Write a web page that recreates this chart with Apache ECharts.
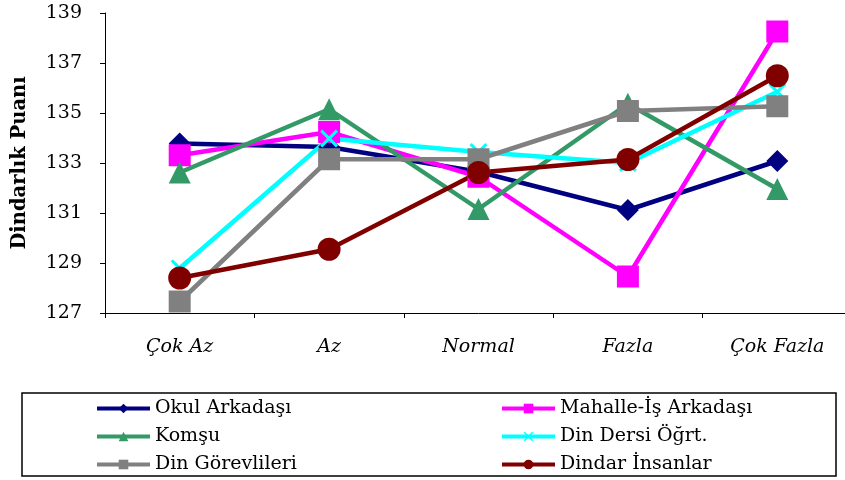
<!DOCTYPE html>
<html>
<head>
<meta charset="utf-8">
<script src="https://cdn.jsdelivr.net/npm/echarts@6/dist/echarts.min.js"></script>
<style>
html,body{margin:0;padding:0;background:#fff;overflow:hidden;}
#chart{width:852px;height:480px;}
</style>
</head>
<body>
<div id="chart"></div>
<script>
const categories = ['Çok Az', 'Az', 'Normal', 'Fazla', 'Çok Fazla'];
const seriesNames = ['Okul Arkadaşı', 'Mahalle-İş Arkadaşı', 'Komşu', 'Din Dersi Öğrt.', 'Din Görevlileri', 'Dindar İnsanlar'];
const okulArkadasi = [133.78, 133.64, 132.65, 131.12, 133.08];
const mahalleIsArkadasi = [133.31, 134.24, 132.45, 128.46, 138.26];
const komsu = [132.62, 135.15, 131.16, 135.37, 131.96];
const dinDersiOgrt = [128.79, 133.98, 133.44, 133.0, 135.85];
const dinGorevlileri = [127.46, 133.15, 133.15, 135.08, 135.27];
const dindarInsanlar = [128.40, 129.55, 132.62, 133.14, 136.49];
const yTicks = { min: 127, max: 139, step: 2 };

const crossPath = 'path://M0,1.2 L1.2,0 L10,8.8 L8.8,10 Z M8.8,0 L10,1.2 L1.2,10 L0,8.8 Z';
const styles = [
  { color: '#000080', symbol: 'diamond', size: 22 },
  { color: '#FF00FF', symbol: 'rect', size: 22 },
  { color: '#339966', symbol: 'triangle', size: 22 },
  { color: '#00FFFF', symbol: crossPath, size: 18 },
  { color: '#808080', symbol: 'rect', size: 22 },
  { color: '#800000', symbol: 'circle', size: 23 }
];
const dataSets = [okulArkadasi, mahalleIsArkadasi, komsu, dinDersiOgrt, dinGorevlileri, dindarInsanlar];

const series = seriesNames.map((name, i) => ({
  name: name,
  type: 'line',
  data: dataSets[i],
  symbol: styles[i].symbol,
  symbolSize: styles[i].size,
  showAllSymbol: true,
  lineStyle: { color: styles[i].color, width: 4.5 },
  itemStyle: { color: styles[i].color, borderWidth: 0 },
  emphasis: { disabled: true }
}));

const font = 'DejaVu Serif';
const legendCommon = {
  orient: 'vertical',
  itemWidth: 53,
  itemHeight: 12,
  itemGap: 9,
  padding: 0,
  lineStyle: { width: 4 },
  textStyle: { fontFamily: font, fontSize: 19, color: '#000' },
  selectedMode: false
};

const chart = echarts.init(document.getElementById('chart'));
chart.setOption({
  animation: false,
  backgroundColor: '#fff',
  grid: { left: 105, top: 13, bottom: 167, right: 0, containLabel: false },
  xAxis: {
    type: 'category',
    data: categories,
    boundaryGap: true,
    axisLine: { lineStyle: { color: '#000', width: 1 } },
    axisTick: { show: true, length: 5, lineStyle: { color: '#000' } },
    axisLabel: { fontFamily: font, fontStyle: 'italic', fontSize: 19, color: '#000', margin: 25, interval: 0 }
  },
  yAxis: {
    type: 'value',
    min: yTicks.min,
    max: yTicks.max,
    interval: yTicks.step,
    name: 'Dindarlık Puanı',
    nameLocation: 'middle',
    nameRotate: 90,
    nameGap: 75,
    nameTextStyle: { fontFamily: font, fontWeight: 'bold', fontSize: 19.5, color: '#000' },
    axisLine: { show: true, lineStyle: { color: '#000', width: 1 } },
    axisTick: { show: true, length: 5, lineStyle: { color: '#000' } },
    splitLine: { show: false },
    axisLabel: { fontFamily: font, fontSize: 19, color: '#000', margin: 23 }
  },
  legend: [
    Object.assign({ left: 95, top: 399, data: [seriesNames[0], seriesNames[2], seriesNames[4]] }, legendCommon),
    Object.assign({ left: 500, top: 399, data: [seriesNames[1], seriesNames[3], seriesNames[5]] }, legendCommon)
  ],
  graphic: [{
    type: 'rect',
    shape: { x: 22, y: 393, width: 814, height: 83 },
    style: { fill: 'none', stroke: '#000', lineWidth: 1.5 },
    silent: true
  }],
  series: series
});
</script>
</body>
</html>
